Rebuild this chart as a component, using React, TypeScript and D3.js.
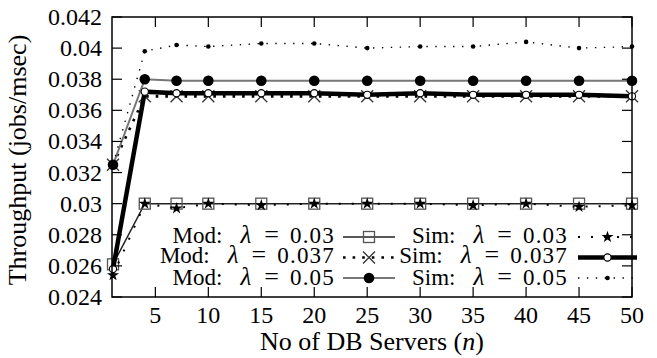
import React from "react";
import * as d3 from "d3";

const xs = [1, 4, 7, 10, 15, 20, 25, 30, 35, 40, 45, 50];
const modL003 = [0.0261, 0.03, 0.03, 0.03, 0.03, 0.03, 0.03, 0.03, 0.03, 0.03, 0.03, 0.03];
const modL0037 = [0.0325, 0.0369, 0.0369, 0.0369, 0.0369, 0.0369, 0.0369, 0.0369, 0.0369, 0.0369, 0.0369, 0.0369];
const modL005 = [0.0325, 0.038, 0.0379, 0.0379, 0.0379, 0.0379, 0.0379, 0.0379, 0.0379, 0.0379, 0.0379, 0.0379];
const simL003 = [0.0254, 0.03, 0.0297, 0.03, 0.0299, 0.03, 0.03, 0.03, 0.0299, 0.03, 0.0298, 0.0299];
const simL0037 = [0.0258, 0.0372, 0.0371, 0.0371, 0.0371, 0.0371, 0.037, 0.0371, 0.037, 0.037, 0.037, 0.0369];
const simL005 = [0.0325, 0.0398, 0.0402, 0.0401, 0.0403, 0.0403, 0.04, 0.0401, 0.0401, 0.0404, 0.04, 0.0401];

const xTicks = [5, 10, 15, 20, 25, 30, 35, 40, 45, 50];
const yTicks = [0.024, 0.026, 0.028, 0.03, 0.032, 0.034, 0.036, 0.038, 0.04, 0.042];
const yTickLabels = ["0.024", "0.026", "0.028", "0.03", "0.032", "0.034", "0.036", "0.038", "0.04", "0.042"];

const FONT = "Liberation Serif";

type MarkerKind = "square" | "cross" | "bigdot" | "star" | "ocircle" | "smalldot";

function Marker({ kind, x, y }: { kind: MarkerKind; x: number; y: number }) {
  if (kind === "square")
    return <rect x={x - 5.5} y={y - 5.5} width={11} height={11} fill="none" stroke="#555" strokeWidth={1.3} />;
  if (kind === "cross")
    return (
      <path d={`M${x - 6},${y - 6}L${x + 6},${y + 6}M${x - 6},${y + 6}L${x + 6},${y - 6}`} stroke="#333" strokeWidth={1.3} />
    );
  if (kind === "bigdot") return <circle cx={x} cy={y} r={5.3} fill="#000" />;
  if (kind === "smalldot") return <circle cx={x} cy={y} r={2.3} fill="#000" />;
  if (kind === "ocircle") return <circle cx={x} cy={y} r={3.6} fill="white" stroke="#000" strokeWidth={1.1} />;
  const star = d3.symbol().type(d3.symbolStar).size(45)();
  return <path d={star || ""} transform={`translate(${x},${y})`} fill="#000" />;
}

type Series = {
  prefix: string;
  lambda: string;
  values: number[];
  stroke: string;
  width: number;
  dash?: string;
  marker: MarkerKind;
};

const series: Series[] = [
  { prefix: "Mod:", lambda: "0.03", values: modL003, stroke: "#222", width: 1.5, marker: "square" },
  { prefix: "Mod:", lambda: "0.037", values: modL0037, stroke: "#000", width: 2.6, dash: "2.6,7", marker: "cross" },
  { prefix: "Mod:", lambda: "0.05", values: modL005, stroke: "#777", width: 2, marker: "bigdot" },
  { prefix: "Sim:", lambda: "0.03", values: simL003, stroke: "#000", width: 2, dash: "2,11", marker: "star" },
  { prefix: "Sim:", lambda: "0.037", values: simL0037, stroke: "#000", width: 4.5, marker: "ocircle" },
  { prefix: "Sim:", lambda: "0.05", values: simL005, stroke: "#000", width: 1.4, dash: "1.4,7.5", marker: "smalldot" },
];

export default function App() {
  const W = 657;
  const H = 358;
  const left = 112;
  const right = 632;
  const top = 17;
  const bottom = 297;
  const x = d3.scaleLinear().domain([1, 50]).range([113, 632]);
  const y = d3.scaleLinear().domain([0.024, 0.042]).range([bottom, top]);
  const line = d3
    .line<[number, number]>()
    .x((d) => x(d[0]))
    .y((d) => y(d[1]));

  const drawOrder = [0, 3, 1, 2, 5, 4];
  const legendRows = [237, 257.5, 278];
  const legendBase = [243, 262.5, 285];

  return (
    <svg width={W} height={H} style={{ position: "absolute", left: 0, top: 0, background: "white" }}>
      <style>{`text, tspan { font-family: "Liberation Serif" !important; }`}</style>
      {/* lines */}
      {drawOrder.map((i) => {
        const s = series[i];
        const pts = xs.map((xv, k) => [xv, s.values[k]] as [number, number]);
        return (
          <g key={"s" + i}>
            <path d={line(pts) || ""} fill="none" stroke={s.stroke} strokeWidth={s.width} strokeDasharray={s.dash} />
            {pts.map((p, k) => (
              <Marker key={k} kind={s.marker} x={x(p[0])} y={y(p[1])} />
            ))}
          </g>
        );
      })}

      {/* legend */}
      {series.map((s, i) => {
        const col = i < 3 ? 0 : 1;
        const row = i % 3;
        const ly = legendRows[row];
        const textRight = col === 0 ? 335 : 568;
        const x0 = col === 0 ? 343 : 578;
        const x1 = col === 0 ? 395 : 637;
        return (
          <g key={"lg" + i}>
            <text x={textRight} y={legendBase[row]} textAnchor="end" fontSize={23} fill="#000" fontFamily={FONT}>
              {s.prefix}
              <tspan dx={18} fontStyle="italic" fontSize={25}>λ</tspan>
              <tspan dx={13} fontSize={26}>=</tspan>
              <tspan dx={11} letterSpacing={1.2}>{s.lambda}</tspan>
            </text>
            <line x1={x0} x2={x1} y1={ly} y2={ly} stroke={s.stroke} strokeWidth={s.width} strokeDasharray={s.dash} />
            <Marker kind={s.marker} x={(x0 + x1) / 2} y={ly} />
          </g>
        );
      })}

      {/* axes frame */}
      <rect x={left} y={top} width={right - left} height={bottom - top} fill="none" stroke="#000" strokeWidth={1.5} />
      {xTicks.map((t) => (
        <g key={"xt" + t}>
          <line x1={x(t)} x2={x(t)} y1={bottom} y2={bottom - 10} stroke="#000" strokeWidth={1.2} />
          <line x1={x(t)} x2={x(t)} y1={top} y2={top + 10} stroke="#000" strokeWidth={1.2} />
          <text x={x(t)} y={323} textAnchor="middle" fontSize={24} fontFamily={FONT}>
            {t}
          </text>
        </g>
      ))}
      {yTicks.map((t, i) => (
        <g key={"yt" + i}>
          <line x1={left} x2={left + 10} y1={y(t)} y2={y(t)} stroke="#000" strokeWidth={1.2} />
          <line x1={right} x2={right - 10} y1={y(t)} y2={y(t)} stroke="#000" strokeWidth={1.2} />
          <text x={102} y={y(t) + 8} textAnchor="end" fontSize={24} fontFamily={FONT}>
            {yTickLabels[i]}
          </text>
        </g>
      ))}
      <text x={372} y={350} textAnchor="middle" fontSize={26} fontFamily={FONT}>
        No of DB Servers (<tspan fontStyle="italic">n</tspan>)
      </text>
      <text transform="translate(26,160) rotate(-90)" textAnchor="middle" fontSize={26} fontFamily={FONT}>
        Throughput (jobs/msec)
      </text>
    </svg>
  );
}
